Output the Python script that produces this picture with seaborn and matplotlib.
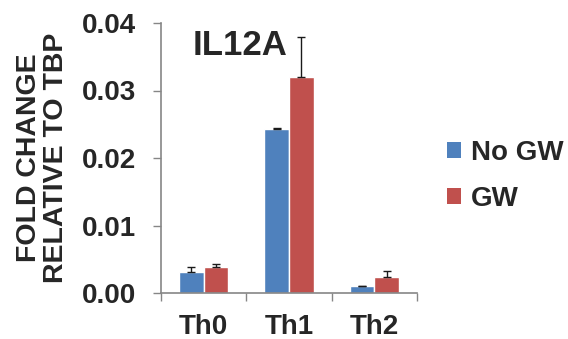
import numpy as np
import pandas as pd
import matplotlib
matplotlib.use("Agg")
import matplotlib.pyplot as plt
from matplotlib.patches import Patch
import seaborn as sns

# Data
cells = ["Th0", "Th1", "Th2"]
treatments = ["No GW", "GW"]
no_gw = [0.0031, 0.0243, 0.0010]
gw = [0.0038, 0.0320, 0.0023]
no_gw_err = [0.0007, 0.0001, 0.0]
gw_err = [0.0005, 0.0060, 0.0009]
y_ticks = [0.00, 0.01, 0.02, 0.03, 0.04]

colors = {"No GW": "#4F81BD", "GW": "#C0504D"}

df = pd.DataFrame({
    "cell": cells * 2,
    "treatment": ["No GW"] * 3 + ["GW"] * 3,
    "value": no_gw + gw,
})
errs = {"No GW": no_gw_err, "GW": gw_err}

sns.set_theme(style="white")
plt.rcParams["font.family"] = ["Liberation Sans", "DejaVu Sans"]
plt.rcParams["font.weight"] = "bold"

fig = plt.figure(figsize=(5.68, 3.39), dpi=100)
ax = fig.add_axes([161 / 568, 1 - 293 / 339, 256 / 568, 270 / 339])

sns.barplot(data=df, x="cell", y="value", hue="treatment", order=cells,
            hue_order=treatments, palette=colors, width=0.575,
            saturation=1, errorbar=None, ax=ax, legend=False)

# upper-only error bars on each bar
for cont, t in zip(ax.containers, treatments):
    xs = [b.get_x() + b.get_width() / 2 for b in cont]
    hs = [b.get_height() for b in cont]
    e = errs[t]
    ax.errorbar(xs, hs, yerr=[np.zeros(len(e)), e], fmt="none",
                ecolor="#1a1a1a", elinewidth=1.0, capsize=2.6, capthick=1.0,
                zorder=3)

ax.set_xlim(-0.5, 2.5)
ax.set_ylim(0, 0.04)
ax.set_yticks(y_ticks)
ax.set_yticklabels([f"{v:.2f}" for v in y_ticks], fontsize=20, fontweight="bold")
ax.set_xticks(range(len(cells)))
ax.set_xticklabels(cells, fontsize=20, fontweight="bold")
ax.set_xticks([-0.5, 0.5, 1.5, 2.5], minor=True)
ax.tick_params(axis="x", which="major", length=0, pad=15)
ax.tick_params(axis="x", which="minor", length=6, width=1, color="#868686",
               direction="out", bottom=True)
ax.tick_params(axis="y", length=6, width=1, color="#868686", direction="out",
               left=True, pad=12)
ax.set_xlabel("")
ax.set_ylabel("FOLD CHANGE\nRELATIVE TO TBP", fontsize=20.5, fontweight="bold",
              linespacing=1.05)
ax.yaxis.set_label_coords(-0.36, 0.5)

for side in ["top", "right"]:
    ax.spines[side].set_visible(False)
for side in ["left", "bottom"]:
    ax.spines[side].set_color("#868686")
    ax.spines[side].set_linewidth(1.2)

ax.text(0.31, 0.915, "IL12A", transform=ax.transAxes, ha="center",
        va="center", fontsize=25, fontweight="bold")

handles = [Patch(facecolor=colors[t], edgecolor="none", label=t)
           for t in treatments]
fig.legend(handles=handles, loc="center left",
           bbox_to_anchor=(447 / 568, 1 - 176 / 339), frameon=False,
           prop={"size": 20, "weight": "bold"}, handlelength=0.5,
           handleheight=0.5, handletextpad=0.35, labelspacing=0.7,
           borderaxespad=0, borderpad=0)

fig.savefig("out.png", dpi=100)
